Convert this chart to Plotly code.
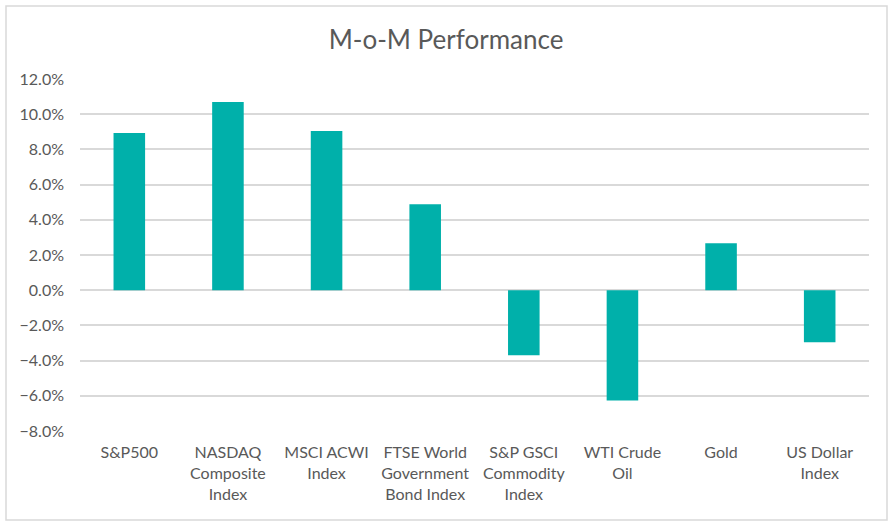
import plotly.graph_objects as go

categories = ["S&P500", "NASDAQ<br>Composite<br>Index", "MSCI ACWI<br>Index",
              "FTSE World<br>Government<br>Bond Index", "S&P GSCI<br>Commodity<br>Index",
              "WTI Crude<br>Oil", "Gold", "US Dollar<br>Index"]
values = [0.0893, 0.1069, 0.0904, 0.0489, -0.0370, -0.0626, 0.0267, -0.0296]
tick_vals = [-0.08, -0.06, -0.04, -0.02, 0.0, 0.02, 0.04, 0.06, 0.08, 0.10, 0.12]

font = "Lato, Open Sans, sans-serif"

fig = go.Figure(go.Bar(x=categories, y=values, marker_color="#00B0AA",
                       marker_line_width=0, width=0.32))

L, R, T, B = 80, 23, 79, 95
W, H = 892, 526
pw, ph = W - L - R, H - T - B

def px_x(x):
    return (x - L) / pw

def px_y(y):
    return (H - B - y) / ph

fig.update_layout(
    width=W, height=H,
    margin=dict(l=L, r=R, t=T, b=B),
    paper_bgcolor="white", plot_bgcolor="white",
    title=dict(text="M-o-M Performance", x=0.5, xanchor="center", y=1 - 40 / H, yanchor="middle",
               font=dict(family=font, size=26, color="#595959")),
    font=dict(family=font, color="#595959", size=16),
    showlegend=False,
    bargap=0.68,
    xaxis=dict(showgrid=False, showline=False, ticks="", tickfont=dict(size=16, color="#595959"),
               ticklabelstandoff=10),
    yaxis=dict(range=[-0.08, 0.12], tickvals=tick_vals, tickformat=".1%",
               showgrid=True, gridcolor="#D9D9D9", gridwidth=1.8, zeroline=False,
               showline=False, ticks="", tickfont=dict(size=16, color="#595959"),
               ticklabelstandoff=15),
    shapes=[dict(type="rect", xref="paper", yref="paper",
                 x0=px_x(6), x1=px_x(887), y0=px_y(520), y1=px_y(6),
                 line=dict(color="#D9D9D9", width=1.5), fillcolor="rgba(0,0,0,0)", layer="below")],
)

fig.write_html("out.html")
